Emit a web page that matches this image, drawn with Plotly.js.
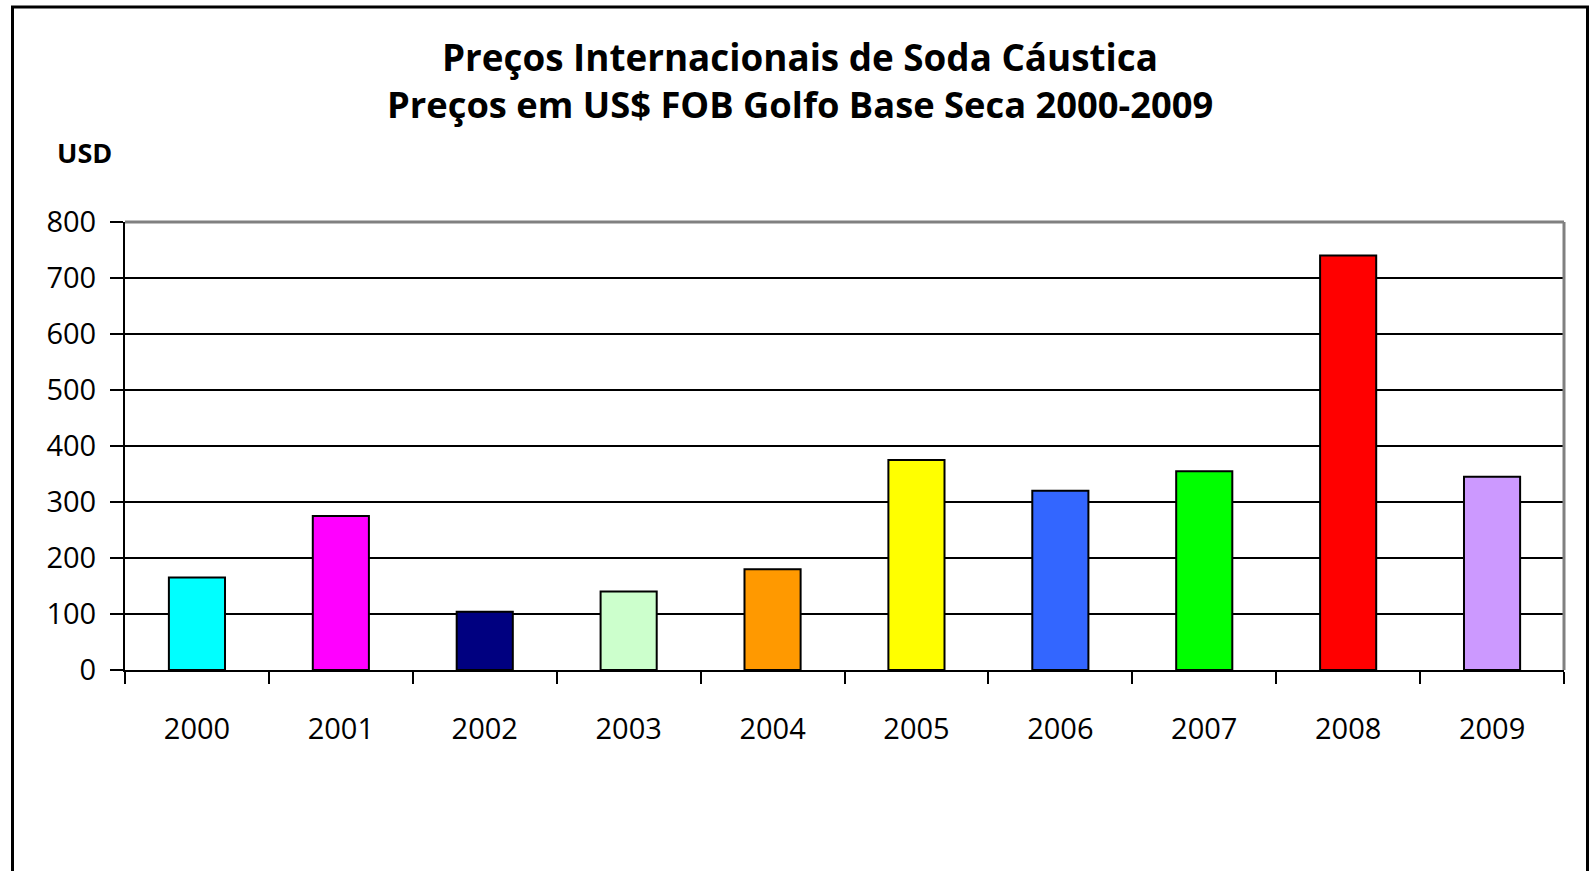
<!DOCTYPE html>
<html>
<head>
<meta charset="utf-8">
<script src="https://cdn.plot.ly/plotly-3.0.1.min.js"></script>
<style>html,body{margin:0;padding:0;background:#fff;}#chart{width:1591px;height:871px;}</style>
</head>
<body>
<div id="chart"></div>
<script>
const categories = ["2000","2001","2002","2003","2004","2005","2006","2007","2008","2009"];
const prices = [165, 275, 104, 140, 180, 375, 320, 355, 740, 345];
const barColors = ["#00FFFF","#FF00FF","#000080","#CCFFCC","#FF9900","#FFFF00","#3366FF","#00FF00","#FF0000","#CC99FF"];
const yTicks = [0,100,200,300,400,500,600,700,800];
const titleLine1 = "Preços Internacionais de Soda Cáustica";
const titleLine2 = "Preços em US$ FOB Golfo Base Seca 2000-2009";
const yLabel = "USD";

const FONT = "Open Sans, sans-serif";
const L = 125, R = 27, T = 222, B = 201;
const W = 1591, H = 871;
const pw = W - L - R, ph = H - T - B;
const px = x => (x - L) / pw;
const py = y => (H - B - y) / ph;

const trace = {
  type: "bar",
  x: categories,
  y: prices,
  width: 0.39,
  marker: {color: barColors, line: {color: "#000", width: 2}},
  hoverinfo: "skip"
};

const layout = {
  width: W, height: H,
  margin: {l: L, r: R, t: T, b: B, pad: 0},
  paper_bgcolor: "#fff",
  plot_bgcolor: "#fff",
  showlegend: false,
  font: {family: FONT, color: "#000"},
  xaxis: {
    type: "category",
    showgrid: false,
    showline: true, linecolor: "#000", linewidth: 2,
    ticks: "outside", tickson: "boundaries", ticklen: 12, tickwidth: 2, tickcolor: "#000",
    tickfont: {family: FONT, size: 29, color: "#000"},
    ticklabelstandoff: 32,
    fixedrange: true
  },
  yaxis: {
    range: [0, 800],
    tickvals: yTicks,
    showgrid: true, gridcolor: "#000", gridwidth: 2,
    zeroline: false,
    showline: true, linecolor: "#000", linewidth: 2,
    ticks: "outside", ticklen: 13, tickwidth: 2, tickcolor: "#000",
    tickfont: {family: FONT, size: 29, color: "#000"},
    ticklabelstandoff: 8,
    fixedrange: true
  },
  shapes: [
    {type: "line", xref: "paper", yref: "paper", x0: 0, x1: 1, y0: 1, y1: 1, line: {color: "#808080", width: 3}, layer: "above"},
    {type: "line", xref: "paper", yref: "paper", x0: 1, x1: 1, y0: 0, y1: 1, line: {color: "#808080", width: 3}, layer: "above"},
    {type: "rect", xref: "paper", yref: "paper", x0: px(12.5), x1: px(1587.5), y0: py(900), y1: py(7), line: {color: "#000", width: 3}, fillcolor: "rgba(0,0,0,0)", layer: "above"}
  ],
  annotations: [
    {xref: "paper", yref: "paper", x: px(800), y: py(57), xanchor: "center", yanchor: "middle", showarrow: false,
     text: "<b>" + titleLine1 + "</b>", font: {family: FONT, size: 36.8, color: "#000"}},
    {xref: "paper", yref: "paper", x: px(800), y: py(104), xanchor: "center", yanchor: "middle", showarrow: false,
     text: "<b>" + titleLine2 + "</b>", font: {family: FONT, size: 36.3, color: "#000"}},
    {xref: "paper", yref: "paper", x: px(55), y: py(153), xanchor: "left", yanchor: "middle", showarrow: false,
     text: "<b>" + yLabel + "</b>", font: {family: FONT, size: 27, color: "#000"}}
  ]
};

Plotly.newPlot("chart", [trace], layout, {displayModeBar: false, staticPlot: true});
</script>
</body>
</html>
